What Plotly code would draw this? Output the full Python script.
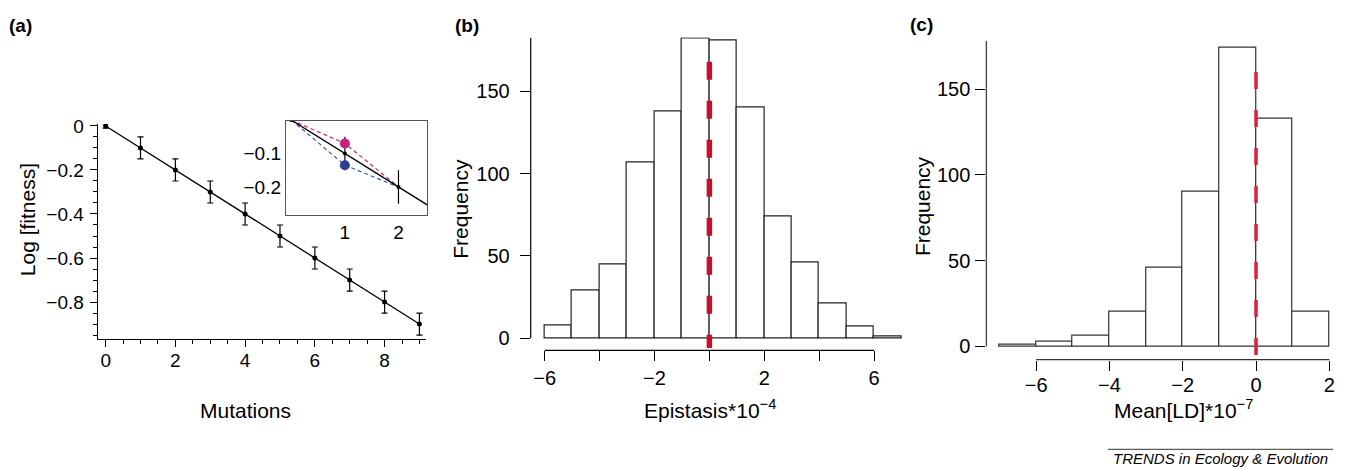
import plotly.graph_objects as go

W, H = 1349, 467

# ---------------- data ----------------
# (a) log fitness vs number of mutations
mutations = [0, 1, 2, 3, 4, 5, 6, 7, 8, 9]
log_fitness = [0.0, -0.1, -0.2, -0.3, -0.4, -0.5, -0.6, -0.7, -0.8, -0.9]
log_fitness_err = [0.01, 0.05, 0.05, 0.05, 0.05, 0.05, 0.05, 0.05, 0.05, 0.05]

# inset of (a)
inset_x = [0, 1, 2, 3]
inset_y = [0.0, -0.1, -0.2, -0.3]
inset_err = [0.0, 0.05, 0.05, 0.05]
inset_pos_x = [0, 1, 2]
inset_pos_y = [0.0, -0.07, -0.2]      # positive epistasis (magenta)
inset_neg_x = [0, 1, 2]
inset_neg_y = [0.0, -0.135, -0.2]     # negative epistasis (blue)

# (b) histogram of epistasis (*10^-4)
epi_left_edges = [-6, -5, -4, -3, -2, -1, 0, 1, 2, 3, 4, 5, 6]
epi_counts = [8, 29, 45, 107, 138, 182, 181, 140, 74, 46, 21, 7, 1]
epi_ticks = [-6, -2, 2, 6]
epi_mean = 0
epi_mean_span = [168, -6]   # drawn from top to bottom

# (c) histogram of mean LD (*10^-7)
ld_left_edges = [-7, -6, -5, -4, -3, -2, -1, 0, 1]
ld_counts = [1, 3, 6, 20, 46, 90, 174, 133, 20]
ld_ticks = [-6, -4, -2, 0, 2]
ld_mean = 0
ld_mean_span = [160, -6]    # drawn from top to bottom

freq_ticks = [0, 50, 100, 150]

# ---------------- helpers ----------------
def dx(p0, p1):
    return [p0 / W, p1 / W]

def dy(top, bottom):
    return [1 - bottom / H, 1 - top / H]

def minus(v):
    s = f"{v:g}"
    return s.replace("-", "−")

FONT = "Liberation Sans, Arial, Helvetica, sans-serif"
TICKF_A = dict(family=FONT, size=19, color="black")
TICKF = dict(family=FONT, size=20, color="black")
RED = "#c8102e"

fig = go.Figure()

# ---- panel (a) ----
fig.add_trace(go.Scatter(
    x=mutations, y=log_fitness, mode="lines+markers",
    line=dict(color="black", width=1.3),
    marker=dict(color="black", size=5),
    error_y=dict(type="data", array=log_fitness_err, color="black", thickness=1.2, width=3),
    xaxis="x", yaxis="y", showlegend=False))

# inset
fig.add_trace(go.Scatter(
    x=inset_pos_x, y=inset_pos_y, mode="lines",
    line=dict(color="#d0207f", width=1.2, dash="4px,3px"),
    xaxis="x2", yaxis="y2", showlegend=False))
fig.add_trace(go.Scatter(
    x=inset_neg_x, y=inset_neg_y, mode="lines",
    line=dict(color="#3a55a8", width=1.2, dash="4px,3px"),
    xaxis="x2", yaxis="y2", showlegend=False))
fig.add_trace(go.Scatter(
    x=inset_x, y=inset_y, mode="lines+markers",
    line=dict(color="black", width=1.3),
    marker=dict(color="black", size=4),
    error_y=dict(type="data", array=inset_err, color="black", thickness=1.2, width=0),
    xaxis="x2", yaxis="y2", showlegend=False))
fig.add_trace(go.Scatter(
    x=inset_pos_x[1:2], y=inset_pos_y[1:2], mode="markers",
    marker=dict(color="#c81e7e", size=10, opacity=1),
    xaxis="x2", yaxis="y2", showlegend=False))
fig.add_trace(go.Scatter(
    x=inset_neg_x[1:2], y=inset_neg_y[1:2], mode="markers",
    marker=dict(color="#2b3f91", size=10, opacity=1),
    xaxis="x2", yaxis="y2", showlegend=False))

# ---- panel (b) ----
fig.add_trace(go.Bar(
    x=[e + 0.5 for e in epi_left_edges], y=epi_counts, width=1,
    marker=dict(color="white", line=dict(color="#222", width=1.2)),
    xaxis="x3", yaxis="y3", showlegend=False))
fig.add_trace(go.Scatter(
    x=[epi_mean, epi_mean], y=epi_mean_span, mode="lines",
    line=dict(color=RED, width=5.5, dash="18px,21px"),
    xaxis="x3", yaxis="y3", showlegend=False))

# ---- panel (c) ----
fig.add_trace(go.Bar(
    x=[e + 0.5 for e in ld_left_edges], y=ld_counts, width=1,
    marker=dict(color="white", line=dict(color="#333", width=1.2)),
    xaxis="x4", yaxis="y4", showlegend=False))
fig.add_trace(go.Scatter(
    x=[ld_mean, ld_mean], y=ld_mean_span, mode="lines",
    line=dict(color="#dc1f3c", width=3.5, dash="17px,21px"),
    xaxis="x4", yaxis="y4", showlegend=False))

common = dict(showgrid=False, zeroline=False, tickcolor="black")

B_YTOP = 182.8
C_YTOP = 178.3

fig.update_layout(
    width=W, height=H,
    margin=dict(l=0, r=0, t=0, b=0),
    paper_bgcolor="white", plot_bgcolor="white",
    font=dict(family=FONT, color="black"),
    bargap=0,
    # (a)
    xaxis=dict(domain=dx(98, 428), range=[-0.23, 9.2], anchor="y",
               showline=True, linecolor="black", linewidth=1,
               ticks="outside", ticklen=7, tick0=0, dtick=2, tickfont=TICKF_A,
               minor=dict(ticks="outside", ticklen=4, dtick=0.5, tickcolor="black"),
               ticklabelstandoff=-3,
               **common),
    yaxis=dict(domain=dy(118, 337), range=[-0.969, 0.009], anchor="x",
               showline=True, linecolor="black", linewidth=1,
               ticks="outside", ticklen=7, tick0=0, dtick=0.2, tickfont=TICKF_A,
               minor=dict(ticks="outside", ticklen=4, dtick=0.05, tickcolor="black"),
               ticklabelstandoff=2,
               **common),
    # inset
    xaxis2=dict(domain=dx(287, 429), range=[-0.1, 2.54], anchor="y2",
                showline=True, mirror=True, linecolor="#555", linewidth=1.2,
                ticks="", tickmode="array", tickvals=[1, 2], ticktext=["1", "2"],
                tickfont=TICKF_A, **common),
    yaxis2=dict(domain=dy(115, 211), range=[-0.285, -0.003], anchor="x2",
                showline=True, mirror=True, linecolor="#555", linewidth=1.2,
                ticks="", tickmode="array", tickvals=[-0.1, -0.2], ticktext=["−0.1", "−0.2"],
                tickfont=TICKF_A, **common),
    # (b)
    xaxis3=dict(domain=dx(532.7, 906.2), range=[-6.51, 7.05], anchor="y3",
                showline=False, ticks="outside", ticklen=10,
                tickmode="array", tickvals=epi_ticks,
                ticktext=[minus(v) for v in epi_ticks],
                minor=dict(ticks="outside", ticklen=10, tick0=0, dtick=2, tickcolor="black"),
                tickfont=TICKF, **common),
    yaxis3=dict(domain=dy(30, 348.3), range=[-7.35, B_YTOP], anchor="x3",
                showline=False, ticks="outside", ticklen=10,
                tickmode="array", tickvals=freq_ticks, ticktext=[str(v) for v in freq_ticks],
                ticklabelstandoff=6, tickfont=TICKF,
                **common),
    # (c)
    xaxis4=dict(domain=dx(990, 1335), range=[-7.36, 2.02], anchor="y4",
                showline=False, ticks="outside", ticklen=10,
                tickmode="array", tickvals=ld_ticks,
                ticktext=[minus(v) for v in ld_ticks],
                ticklabelstandoff=-3,
                tickfont=TICKF, **common),
    yaxis4=dict(domain=dy(33.3, 357.7), range=[-7.68, C_YTOP], anchor="x4",
                showline=False, ticks="outside", ticklen=10,
                tickmode="array", tickvals=freq_ticks, ticktext=[str(v) for v in freq_ticks],
                ticklabelstandoff=1, tickfont=TICKF,
                **common),
)

shapes = [
    # (b) axis lines
    dict(type="line", xref="x3 domain", yref="y3", x0=0, x1=0, y0=0, y1=B_YTOP,
         line=dict(color="black", width=1.2)),
    dict(type="line", xref="x3", yref="y3 domain", x0=-6, x1=6, y0=0, y1=0,
         line=dict(color="black", width=1.2)),
    # (c) axis lines
    dict(type="line", xref="x4 domain", yref="y4", x0=0, x1=0, y0=0, y1=C_YTOP,
         line=dict(color="#333", width=1.2)),
    dict(type="line", xref="x4", yref="y4 domain", x0=-6, x1=2, y0=0, y1=0,
         line=dict(color="#333", width=1.2)),
    # footer rule
    dict(type="line", xref="paper", yref="paper", x0=1112 / W, x1=1338 / W,
         y0=1 - 449 / H, y1=1 - 449 / H, line=dict(color="#333", width=1)),
]
fig.update_layout(shapes=shapes)

def ann(text, x, y, size, bold=False, italic=False, angle=0):
    t = text
    if bold:
        t = "<b>" + t + "</b>"
    if italic:
        t = "<i>" + t + "</i>"
    return dict(text=t, x=x / W, y=1 - y / H, xref="paper", yref="paper",
                showarrow=False, xanchor="center", yanchor="middle",
                textangle=angle, font=dict(family=FONT, size=size, color="black"))

annotations = [
    ann("(a)", 21, 18, 19, bold=True),
    ann("(b)", 469, 18, 19, bold=True),
    ann("(c)", 925, 17, 19, bold=True),
    ann("Log [fitness]", 27, 215, 21, angle=-90),
    ann("Mutations", 246, 410, 21),
    ann("Frequency", 462, 204, 21, angle=-90),
    ann("Epistasis*10<sup>−4</sup>", 713, 408, 21),
    ann("Frequency", 926, 202, 21, angle=-90),
    ann("Mean[LD]*10<sup>−7</sup>", 1188, 408, 21),
    ann("TRENDS in Ecology &amp; Evolution", 1225, 458, 15, italic=True),
]
fig.update_layout(annotations=annotations)

fig.write_html(
    "out.html",
    config={"displayModeBar": False},
    post_script="document.body.style.margin='0';document.body.style.overflow='hidden';",
)
